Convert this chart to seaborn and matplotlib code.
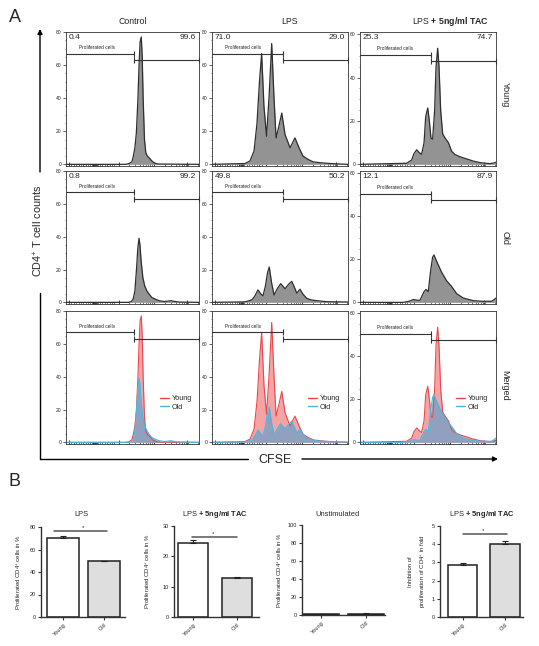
import matplotlib
matplotlib.use("Agg")
import matplotlib.pyplot as plt
import numpy as np
import seaborn as sns
from matplotlib.lines import Line2D
from matplotlib.ticker import AutoMinorLocator, FixedLocator, MultipleLocator

# ---- CFSE histograms (x = display channel 0-1000, y = CD4+ T cell counts) ----
control_young_x = [0, 450, 475, 495, 505, 518, 529, 540, 549, 557, 566, 573, 580, 590, 600, 612, 625, 640, 660, 690, 1000]
control_young_y = [0, 0, 0.5, 1.5, 4.5, 10, 19, 38, 59, 74, 77, 65, 40, 15, 7, 5, 4, 2.5, 1, 0.2, 0]

control_old_x = [0, 470, 491, 505, 518, 530, 540, 549, 556, 565, 578, 592, 608, 625, 645, 670, 700, 740, 790, 820, 850, 1000]
control_old_y = [0, 0, 0.5, 2, 7, 20, 33, 39, 35, 25, 15, 10, 7, 5, 3, 2, 1, 0.5, 1, 0.5, 0.2, 0]

lps_young_x = [0, 243, 279, 309, 331, 349, 365, 382, 401, 419, 439, 456, 471, 489, 513, 537, 574, 610, 640, 669, 706, 743, 794, 868, 941, 1000]
lps_young_y = [0, 0.5, 2, 8, 25, 50, 67, 35, 17, 40, 73, 40, 16, 22, 31, 18, 10, 16, 10, 5, 3, 1.5, 1, 0.5, 0.2, 0]

lps_old_x = [0, 243, 294, 316, 338, 360, 375, 393, 408, 421, 438, 456, 478, 505, 537, 563, 586, 607, 623, 647, 669, 696, 728, 770, 843, 1000]
lps_old_y = [0, 0.3, 1.5, 4, 7.6, 5, 4, 10, 18, 21.5, 12, 4.5, 8, 11.4, 8.3, 11, 12.8, 9, 5.6, 8, 5, 2.5, 1.5, 1, 0.4, 0.2]

tac_young_x = [0, 343, 380, 397, 417, 434, 453, 471, 483, 498, 510, 522, 534, 549, 559, 571, 581, 593, 608, 627, 650, 674, 699, 735, 784, 833, 882, 956, 993, 1000]
tac_young_y = [0, 0.5, 2, 5, 6.7, 5.5, 4.6, 10, 22, 26, 20, 12, 11.6, 25, 45, 53.5, 45, 25, 14, 12, 10, 6, 4.5, 3.5, 2.5, 1.5, 0.8, 0.3, 0.8, 1]

tac_old_x = [0, 319, 360, 392, 420, 441, 471, 485, 502, 520, 534, 544, 564, 600, 637, 672, 711, 760, 833, 895, 968, 980, 1000]
tac_old_y = [0, 0, 0.5, 1.3, 1, 1, 5, 6, 5, 15, 21, 22, 19, 14, 10, 7.5, 4, 2, 0.8, 0.5, 0.5, 1, 2]

conditions = ["Control", "LPS", "LPS + 5ng/ml TAC"]
ages = ["Young", "Old", "Merged"]
left_pct = [["0.4", "71.0", "25.3"], ["0.8", "49.8", "12.1"]]
right_pct = [["99.6", "29.0", "74.7"], ["99.2", "50.2", "87.9"]]
gate_split = [510, 522, 520]
gate_left_y = [67, 67, 50.5]
gate_right_y = [63, 63, 47.5]
gate_label_x = [233, 230, 260]
y_top = [80, 80, 61]

# ---- bar charts (mean + SEM) ----
groups = ["Young", "Old"]
lps_mean, lps_sem = [70.5, 49.5], [1.5, 0.7]
tac_mean, tac_sem = [24.5, 12.8], [0.8, 0.5]
unstim_mean, unstim_sem = [0.6, 1.3], [0.2, 0.5]
inhib_mean, inhib_sem = [2.88, 4.0], [0.07, 0.18]

W, H = 539, 646
sns.set_style("ticks")
plt.rcParams["font.family"] = ["Liberation Sans", "DejaVu Sans"]
plt.rcParams["mathtext.fontset"] = "custom"
plt.rcParams["mathtext.rm"] = "Liberation Sans"
plt.rcParams["mathtext.bf"] = "Liberation Sans:bold"
plt.rcParams["mathtext.it"] = "Liberation Sans:italic"
plt.rcParams["axes.linewidth"] = 0.6

fig = plt.figure(figsize=(W / 100, H / 100), dpi=100)


def px_axes(left, top, right, bottom):
    return fig.add_axes([left / W, 1 - bottom / H, (right - left) / W, (bottom - top) / H])


over = px_axes(0, 0, W, H)
over.set_xlim(0, W)
over.set_ylim(H, 0)
over.axis("off")


def style_cfse_axis(ax, top):
    ax.set_xlim(0, 1000)
    ax.set_ylim(-top / 80, top)
    major = [20, 395, 665, 910]
    minor = list(range(40, 380, 18)) + list(range(198, 232, 4))
    for d in (395, 665, 910):
        minor += [d + 265 * np.log10(k) for k in range(2, 10)]
    minor = [m for m in minor if m < 1000]
    ax.xaxis.set_major_locator(FixedLocator(major))
    ax.xaxis.set_minor_locator(FixedLocator(minor))
    ax.tick_params(axis="x", which="major", direction="in", length=3, width=0.6, labelbottom=False)
    ax.tick_params(axis="x", which="minor", direction="in", length=1.6, width=0.45)
    ax.yaxis.set_major_locator(MultipleLocator(20))
    ax.yaxis.set_minor_locator(AutoMinorLocator(4))
    ax.tick_params(axis="y", which="major", direction="out", length=2, width=0.5, labelsize=3.6, pad=1)
    ax.tick_params(axis="y", which="minor", direction="out", length=1, width=0.4)
    for s in ax.spines.values():
        s.set_linewidth(0.6)
        s.set_color("#333333")


def draw_gate(ax, c):
    split = gate_split[c]
    ax.plot([0, split], [gate_left_y[c]] * 2, color="#333333", lw=0.8)
    ax.plot([split], [gate_left_y[c]], marker="|", ms=4, mew=0.8, color="#333333")
    ax.plot([split, 1000], [gate_right_y[c]] * 2, color="#333333", lw=0.8,
            marker="|", ms=4, mew=0.8, clip_on=False)
    ax.text(gate_label_x[c], gate_left_y[c] + y_top[c] * 0.025, "Proliferated cells",
            fontsize=3.4, ha="center", va="bottom", color="#222222")


curves = [
    [(control_young_x, control_young_y), (lps_young_x, lps_young_y), (tac_young_x, tac_young_y)],
    [(control_old_x, control_old_y), (lps_old_x, lps_old_y), (tac_old_x, tac_old_y)],
]

col_px = [(66, 199), (212, 348), (360, 496)]
row_px = [(32, 166), (171, 304), (311, 444)]

for r, (top, bottom) in enumerate(row_px):
    for c, (left, right) in enumerate(col_px):
        ax = px_axes(left, top, right, bottom)
        style_cfse_axis(ax, y_top[c])
        if r < 2:
            x, y = curves[r][c]
            ax.fill_between(x, y, color="#939393", lw=0)
            ax.plot(x, y, color="#2e2e2e", lw=0.9)
            ax.text(0.02, 0.985, left_pct[r][c], transform=ax.transAxes, fontsize=6, ha="left", va="top")
            ax.text(0.98, 0.985, right_pct[r][c], transform=ax.transAxes, fontsize=6, ha="right", va="top")
        else:
            xy, yy = curves[0][c]
            xo, yo = curves[1][c]
            ax.fill_between(xy, yy, color="#f6a3a5", lw=0)
            ax.fill_between(xo, yo, color="#6a9fc8", alpha=0.72, lw=0)
            ax.plot(xy, yy, color="#e8474c", lw=0.8)
            ax.plot(xo, yo, color="#3fbce8", lw=0.8)
            handles = [Line2D([], [], color="#e8474c", lw=1), Line2D([], [], color="#4fb3e0", lw=1)]
            ax.legend(handles, ["Young", "Old"], loc="center left", bbox_to_anchor=(0.66, 0.31),
                      frameon=False, fontsize=5.2, handlelength=1.2, handletextpad=0.4, labelspacing=0.2)
        draw_gate(ax, c)

# column and row labels
over.text(133, 22, "Control", fontsize=6.3, ha="center", va="center")
over.text(290, 22, "LPS", fontsize=6.3, ha="center", va="center")
over.text(450, 22, r"LPS $\mathbf{+\ 5ng/ml\ TAC}$", fontsize=6.3, ha="center", va="center")
for label, yc in zip(ages, [95, 238, 385]):
    over.text(505, yc, label, fontsize=6.5, rotation=270, ha="center", va="center")

over.text(15, 17, "A", fontsize=13, ha="center", va="center")
over.text(15, 481, "B", fontsize=13, ha="center", va="center")

# axis arrows
over.plot([40, 40], [459, 293], color="black", lw=1)
over.annotate("", xy=(40, 29), xytext=(40, 172),
              arrowprops=dict(arrowstyle="-|>", lw=1, color="black", mutation_scale=7, shrinkA=0, shrinkB=0))
over.text(38, 231, r"CD4$^{+}$ T cell counts", fontsize=7.8, rotation=90, ha="center", va="center")
over.plot([40, 248], [459, 459], color="black", lw=1)
over.annotate("", xy=(498, 459), xytext=(302, 459),
              arrowprops=dict(arrowstyle="-|>", lw=1, color="black", mutation_scale=7, shrinkA=0, shrinkB=0))
over.text(275, 460, "CFSE", fontsize=9, ha="center", va="center")

# ---- panel B bar charts ----
bar_specs = [
    dict(rect=(41, 527, 125, 617), mean=lps_mean, sem=lps_sem, top=80, step=20, xlim=(-0.54, 1.5), width=0.78,
         title="LPS", tx=81, ylab=r"Proliferated CD4$^{+}$ cells in %", lx=19, sig=(-0.23, 1.07, 76.5, 0.48)),
    dict(rect=(174, 526, 259, 617), mean=tac_mean, sem=tac_sem, top=30, step=10, xlim=(-0.43, 1.5), width=0.7,
         title=r"LPS $\mathbf{+\ 5ng/ml\ TAC}$", tx=215, ylab=r"Proliferated CD4$^{+}$ cells in %", lx=148,
         sig=(-0.03, 1.0, 26.4, 0.45)),
    dict(rect=(302, 525, 385, 615), mean=unstim_mean, sem=unstim_sem, top=100, step=20, xlim=(-0.42, 1.42),
         width=0.78, title="Unstimulated", tx=338, ylab=r"Proliferated CD4$^{+}$ cells in %", lx=280, sig=None),
    dict(rect=(440, 526, 523, 617), mean=inhib_mean, sem=inhib_sem, top=5, step=1, xlim=(-0.53, 1.42), width=0.7,
         title=r"LPS $\mathbf{+\ 5ng/ml\ TAC}$", tx=482,
         ylab="Inhibition of\n" + r"proliferation of CD4$^{+}$ in fold", lx=418, sig=(0.0, 1.05, 4.54, 0.48)),
]

for spec in bar_specs:
    ax = px_axes(*spec["rect"])
    sns.barplot(x=groups, y=spec["mean"], hue=groups, palette=["white", "#dedede"], legend=False,
                edgecolor="#222222", linewidth=1.1, width=spec["width"], ax=ax)
    ax.errorbar([0, 1], spec["mean"], yerr=[[0, 0], spec["sem"]], fmt="none", ecolor="#222222",
                elinewidth=0.8, capsize=2, capthick=0.8)
    ax.set_ylim(0, spec["top"])
    ax.set_xlim(*spec["xlim"])
    ax.yaxis.set_major_locator(MultipleLocator(spec["step"]))
    sns.despine(ax=ax)
    for s in ("left", "bottom"):
        ax.spines[s].set_linewidth(1)
        ax.spines[s].set_color("#333333")
    ax.tick_params(axis="both", length=2, width=0.8, labelsize=4, pad=1.5, color="#333333")
    ax.set_xticks([0, 1])
    ax.set_xticklabels(groups, rotation=45, ha="right", rotation_mode="anchor", fontsize=4)
    ax.set_xlabel("")
    ax.set_ylabel("")
    if spec["sig"] is not None:
        x0, x1, ys, xa = spec["sig"]
        ax.plot([x0, x1], [ys, ys], color="#555555", lw=1.1, clip_on=False)
        ax.text(xa, ys + spec["top"] * 0.01, "*", fontsize=4.5, ha="center", va="bottom")
    left, top, right, bottom = spec["rect"]
    over.text(spec["tx"], 514, spec["title"], fontsize=5.4, ha="center", va="center")
    over.text(spec["lx"], (top + bottom) / 2, spec["ylab"], fontsize=4.3, rotation=90, ha="center",
              va="center", multialignment="center", linespacing=1.8)

fig.savefig("out.png", dpi=100)
